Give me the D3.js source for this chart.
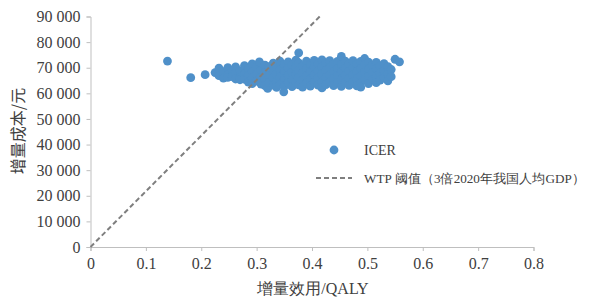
<!DOCTYPE html>
<html>
<head>
<meta charset="utf-8">
<script src="https://cdn.jsdelivr.net/npm/d3@7"></script>
<style>
  body { margin: 0; background: #fff; }
  svg { display: block; }
</style>
</head>
<body>
<div id="chart"></div>
<script>
// Tick values
const xTicks = [0, 0.1, 0.2, 0.3, 0.4, 0.5, 0.6, 0.7, 0.8];
const yTicks = [0, 10000, 20000, 30000, 40000, 50000, 60000, 70000, 80000, 90000];

// ICER scatter (incremental QALY, incremental cost)
const icerPoints = [
  [0.139, 72600], [0.181, 66100], [0.207, 67300], [0.225, 68100],
  [0.232, 69800], [0.232, 66900], [0.240, 68500], [0.240, 65900],
  [0.248, 70000], [0.248, 67200], [0.248, 66200], [0.256, 69000], [0.256, 66500],
  [0.262, 70300], [0.262, 67800], [0.262, 65600], [0.270, 68800], [0.270, 66200], [0.270, 65300],
  [0.278, 70800], [0.278, 67500], [0.278, 65500], [0.285, 69600], [0.285, 66800], [0.285, 64400],
  [0.292, 71500], [0.292, 68400], [0.292, 65900], [0.292, 63800],
  [0.300, 70200], [0.300, 67300], [0.300, 64800], [0.305, 72300],
  [0.308, 69000], [0.308, 66200], [0.308, 63600],
  [0.315, 71000], [0.315, 68000], [0.315, 65300], [0.315, 63000], [0.320, 61900],
  [0.322, 70400], [0.322, 67000], [0.322, 64200],
  [0.330, 71800], [0.330, 68800], [0.330, 66000], [0.330, 63200],
  [0.336, 70100], [0.336, 67400], [0.336, 64600], [0.336, 62300],
  [0.342, 72600], [0.342, 69200], [0.342, 66300], [0.342, 63500], [0.349, 60600],
  [0.350, 71200], [0.350, 68400], [0.350, 65600], [0.350, 62800],
  [0.357, 72300], [0.357, 69900], [0.357, 67000], [0.357, 64200],
  [0.364, 71000], [0.364, 68200], [0.364, 65300], [0.364, 62600],
  [0.371, 73000], [0.371, 70200], [0.371, 67400], [0.371, 64600],
  [0.376, 75800], [0.376, 71900], [0.376, 69000], [0.376, 66100], [0.376, 63300],
  [0.383, 70700], [0.383, 67900], [0.383, 65100], [0.383, 62400],
  [0.390, 72600], [0.390, 69600], [0.390, 66800], [0.390, 64000],
  [0.397, 71200], [0.397, 68300], [0.397, 65500], [0.397, 62800],
  [0.404, 72900], [0.404, 70000], [0.404, 67100], [0.404, 64300],
  [0.411, 71500], [0.411, 68700], [0.411, 65900], [0.411, 63200],
  [0.418, 73100], [0.418, 70300], [0.418, 67500], [0.418, 64600], [0.418, 62100],
  [0.425, 71800], [0.425, 68900], [0.425, 66100], [0.425, 63400],
  [0.432, 72800], [0.432, 70000], [0.432, 67200], [0.432, 64500],
  [0.439, 71300], [0.439, 68500], [0.439, 65700], [0.439, 63000],
  [0.446, 72500], [0.446, 69700], [0.446, 66900], [0.446, 64200],
  [0.453, 74400], [0.453, 71200], [0.453, 68300], [0.453, 65500], [0.453, 62700],
  [0.460, 72600], [0.460, 69800], [0.460, 67000], [0.460, 64300],
  [0.467, 71400], [0.467, 68600], [0.467, 65800], [0.467, 63100],
  [0.474, 72800], [0.474, 70000], [0.474, 67200], [0.474, 64400],
  [0.481, 71300], [0.481, 68500], [0.481, 65600], [0.481, 62900],
  [0.488, 72500], [0.488, 69700], [0.488, 66800], [0.488, 64100], [0.488, 62400],
  [0.495, 73600], [0.495, 71000], [0.495, 68200], [0.495, 65400],
  [0.502, 72200], [0.502, 69400], [0.502, 66600], [0.502, 63800],
  [0.509, 71000], [0.509, 68200], [0.509, 65300],
  [0.516, 72100], [0.516, 69500], [0.516, 66700], [0.516, 64200],
  [0.523, 70700], [0.523, 67900], [0.523, 65200],
  [0.530, 71600], [0.530, 68800], [0.530, 66000],
  [0.537, 70400], [0.537, 67600], [0.537, 64900],
  [0.543, 69300], [0.543, 66500],
  [0.550, 73300], [0.558, 72300]
];

// WTP threshold line endpoints (3 x 2020 GDP per capita, ~217 341 yuan/QALY)
const wtpLine = [[0, 0], [0.414, 90000]];

const legendLabels = ["ICER", "WTP 阈值（3倍2020年我国人均GDP）"];

const width = 590;
const height = 298;
const blue = "#4f90c9";
const axisGray = "#bfbfbf";
const textColor = "#404040";
const serif = '"Liberation Serif"';
const cjk = '"Noto Sans CJK SC"';

const svg = d3.select("#chart").append("svg")
  .attr("width", width)
  .attr("height", height);

const x = d3.scaleLinear().domain([0, 0.8]).range([90.5, 533.5]);
const y = d3.scaleLinear().domain([0, 90000]).range([247, 16.5]);

const spaceFormat = d3.formatLocale({ decimal: ".", thousands: " ", grouping: [3], currency: ["", ""] }).format(",");

// x axis
const gx = svg.append("g")
  .attr("transform", `translate(0,${y(0)})`)
  .call(d3.axisBottom(x).tickValues(xTicks).tickSize(4).tickPadding(7)
    .tickFormat(d => d === 0 ? "0" : d.toFixed(1)));

// y axis
const gy = svg.append("g")
  .attr("transform", `translate(${x(0)},0)`)
  .call(d3.axisLeft(y).tickValues(yTicks).tickSize(4).tickPadding(6)
    .tickFormat(spaceFormat));

[gx, gy].forEach(g => {
  g.select(".domain").attr("stroke", axisGray).attr("stroke-width", 1);
  g.selectAll(".tick line").attr("stroke", axisGray);
  g.selectAll(".tick text")
    .attr("fill", textColor)
    .style("font-family", serif)
    .style("font-size", "16px");
});

// scatter points
svg.append("g")
  .selectAll("circle")
  .data(icerPoints)
  .join("circle")
  .attr("cx", d => x(d[0]))
  .attr("cy", d => y(d[1]))
  .attr("r", 4.4)
  .attr("fill", blue);

// WTP line
svg.append("path")
  .datum(wtpLine)
  .attr("fill", "none")
  .attr("stroke", "#7f7f7f")
  .attr("stroke-width", 2)
  .attr("stroke-dasharray", "5,3")
  .attr("d", d3.line().x(d => x(d[0])).y(d => y(d[1])));

// axis titles
svg.append("text")
  .attr("x", 313)
  .attr("y", 294)
  .attr("text-anchor", "middle")
  .attr("fill", textColor)
  .style("font-family", serif)
  .style("font-size", "16px")
  .text("增量效用/QALY");

svg.append("text")
  .attr("transform", "translate(24,131) rotate(-90)")
  .attr("text-anchor", "middle")
  .attr("fill", textColor)
  .style("font-family", cjk)
  .style("font-size", "16px")
  .text("增量成本/元");

// legend
const legend = svg.append("g");
legend.append("circle")
  .attr("cx", 334)
  .attr("cy", 150)
  .attr("r", 4.4)
  .attr("fill", blue);
legend.append("line")
  .attr("x1", 316).attr("x2", 352)
  .attr("y1", 178).attr("y2", 178)
  .attr("stroke", "#7f7f7f")
  .attr("stroke-width", 2)
  .attr("stroke-dasharray", "5,3");
legend.selectAll("text.lg")
  .data(legendLabels)
  .join("text")
  .attr("class", "lg")
  .attr("x", 364)
  .attr("y", (d, i) => 155 + i * 28)
  .attr("fill", textColor)
  .style("font-family", serif)
  .style("font-size", (d, i) => i === 1 ? "13px" : "14px")
  .text(d => d);

// squeeze the long legend entry to the width it has in the reference
legend.selectAll("text.lg").filter((d, i) => i === 1)
  .attr("textLength", 221)
  .attr("lengthAdjust", "spacingAndGlyphs");
</script>
</body>
</html>
